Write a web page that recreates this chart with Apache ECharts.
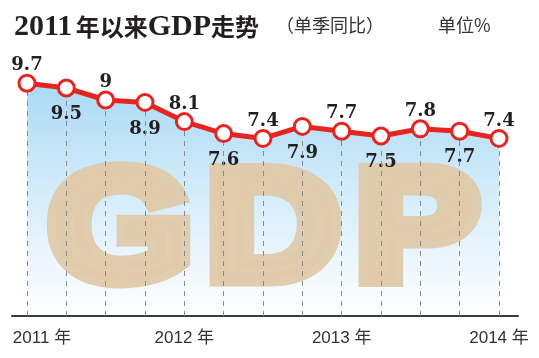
<!DOCTYPE html>
<html><head><meta charset="utf-8">
<script src="https://cdn.jsdelivr.net/npm/echarts@6/dist/echarts.min.js"></script>
<style>html,body{margin:0;padding:0;background:#fff}#c{width:539px;height:358px}</style>
</head><body><div id="c"></div>
<script>
const categories = ['2011Q1','2011Q2','2011Q3','2011Q4','2012Q1','2012Q2','2012Q3','2012Q4','2013Q1','2013Q2','2013Q3','2013Q4','2014Q1'];
const gdpValues = [9.7, 9.5, 9, 8.9, 8.1, 7.6, 7.4, 7.9, 7.7, 7.5, 7.8, 7.7, 7.4];
const tickLabels = ['2011 年','2012 年','2013 年','2014 年'];
const tickIndex = [0, 4, 8, 12];

const chart = echarts.init(document.getElementById('c'));
const serif = '"Liberation Serif", "DejaVu Serif", serif';
const cjk = '"Noto Sans CJK SC", sans-serif';
const sans = '"Liberation Sans", Arial, "Noto Sans CJK SC", sans-serif';

const markData = gdpValues.map((v, i) => [{coord: [i, 0]}, {coord: [i, v - 0.4]}]);

const wmStyle = (t) => ({
  text: t, fontFamily: '"Liberation Sans", Arial, sans-serif', fontWeight: 'bold',
  fontSize: 158, fill: '#dfc9aa', stroke: '#dfc9aa', lineWidth: 15, lineJoin: 'miter',
  textAlign: 'left', textVerticalAlign: 'top', align: 'left', verticalAlign: 'top', opacity: 0.95
});

chart.setOption({
  animation: false,
  backgroundColor: '#ffffff',
  grid: [
    {left: 27, right: 40, top: 76, bottom: 42},
    {left: 12, right: 21, top: 76, bottom: 42}
  ],
  xAxis: [
    {
      type: 'category', gridIndex: 0, data: categories, boundaryGap: false,
      axisLine: {show: false}, axisTick: {show: false}, splitLine: {show: false},
      axisLabel: {
        interval: 0, margin: 14, color: '#333', fontSize: 17, fontFamily: sans,
        formatter: (val, idx) => {
          const k = tickIndex.indexOf(idx);
          if (k < 0) return '';
          return k === 0 ? '{first|' + tickLabels[k] + '}' : tickLabels[k];
        },
        rich: {first: {padding: [0, 0, 0, 30], fontSize: 17, color: '#333', fontFamily: sans}}
      }
    },
    {
      type: 'value', gridIndex: 1, min: 0, max: 1,
      axisLine: {show: true, onZero: false, lineStyle: {color: '#3a3a3a', width: 2}},
      axisTick: {show: false}, axisLabel: {show: false}, splitLine: {show: false}
    }
  ],
  yAxis: [
    {type: 'value', gridIndex: 0, min: 0, max: 10, show: false},
    {type: 'value', gridIndex: 1, min: 0, max: 1, show: false}
  ],
  graphic: [
    {type: 'text', left: 14, top: 12, z: 10, style: {
      text: '{a|2011} {b|年以来}{a|GDP}{b|走势}',
      rich: {
        a: {fontFamily: serif, fontWeight: 'bold', fontSize: 30, fill: '#231f20'},
        b: {fontFamily: cjk, fontWeight: 'bold', fontSize: 24, fill: '#231f20'}
      }
    }},
    {type: 'text', left: 276, top: 16, z: 10, style: {
      text: '（单季同比）', fontFamily: cjk, fontSize: 18, fill: '#333'
    }},
    {type: 'text', left: 438, top: 16, z: 10, style: {
      text: '单位%', fontFamily: cjk, fontSize: 18, fill: '#333'
    }},
    {type: 'text', x: 48, y: 156, scaleX: 1.18, z: 1, style: wmStyle('G')},
    {type: 'text', x: 206, y: 156, scaleX: 1.18, z: 1, style: wmStyle('D')},
    {type: 'text', x: 355, y: 156, scaleX: 1.18, z: 1, style: wmStyle('P')}
  ],
  series: [
    {
      type: 'line', xAxisIndex: 0, yAxisIndex: 0, data: gdpValues, z: 0,
      symbol: 'none', lineStyle: {width: 0, opacity: 0}, silent: true,
      areaStyle: {
        origin: 'start',
        color: new echarts.graphic.LinearGradient(0, 0, 0, 1, [
          {offset: 0, color: '#86c9ef'},
          {offset: 0.45, color: '#bfe3f8'},
          {offset: 1, color: '#ffffff'}
        ])
      }
    },
    {
      type: 'line', xAxisIndex: 0, yAxisIndex: 0, z: 3,
      data: gdpValues.map((v, i) => ({
        value: v,
        label: {position: i % 2 === 0 ? 'top' : 'bottom', distance: i % 2 === 0 ? -1 : 8}
      })),
      symbol: 'circle', symbolSize: 16,
      lineStyle: {color: '#e62520', width: 5},
      itemStyle: {color: '#ffffff', borderColor: '#e62520', borderWidth: 3},
      label: {
        show: true, fontFamily: '"DejaVu Serif", serif', fontWeight: 'bold', fontSize: 18, color: '#231f20',
        formatter: p => String(p.value)
      },
      markLine: {
        silent: true, symbol: 'none', label: {show: false},
        lineStyle: {color: '#8a8a8a', type: [5, 5], width: 1},
        data: markData
      }
    }
  ]
});
</script>
</body></html>
